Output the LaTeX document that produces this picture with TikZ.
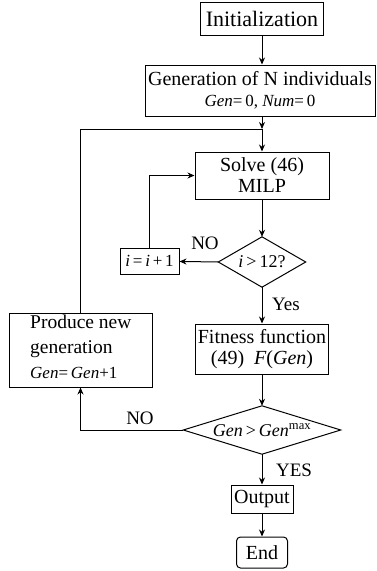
\documentclass[tikz,border=0pt]{standalone}
\usepackage{fontspec}
\setmainfont{Liberation Serif}
\usetikzlibrary{arrows.meta}
\begin{document}
\begin{tikzpicture}[x=1pt,y=-1pt,
  box/.style={draw,line width=1pt,inner sep=0pt,align=center,font=\fontsize{20}{21}\selectfont},
  dia/.style={inner sep=0pt,align=center},
  lbl/.style={font=\fontsize{19}{21}\selectfont,inner sep=0pt},
  arr/.style={line width=1pt,-{Stealth[length=7pt,width=6pt]}},
  ln/.style={line width=1pt}]
\useasboundingbox (0,0) rectangle (376,571);
\node[box,minimum width=123,minimum height=33,font=\fontsize{22}{24}\selectfont] (init) at (262,18.5) {Initialization};
\node[box,minimum width=230,minimum height=51,align=center] (gen) at (260,90.5)
  {Generation of N individuals\\[0pt]{\fontsize{17}{19}\selectfont\itshape Gen\upshape=\,0, \itshape Num\upshape=\,0}};
\coordinate (j) at (262,129);
\node[box,minimum width=134,minimum height=47] (solve) at (262,175.5) {Solve (46)\\MILP};
\node[dia,minimum width=87,minimum height=50,font=\fontsize{18}{20}\selectfont] (d1) at (262,262) {\itshape i\upshape\,>\,12?};
\draw[ln] (d1.north) -- (d1.east) -- (d1.south) -- (d1.west) -- cycle;
\node[box,minimum width=59,minimum height=26,font=\fontsize{17}{19}\selectfont] (inc) at (149.5,261) {\itshape i\upshape\,=\,\itshape i\upshape\,+\,1};
\node[box,minimum width=133,minimum height=50] (fit) at (262,349) {Fitness function\\(49)\ \ \itshape F\upshape(\itshape Gen\upshape)};
\node[dia,minimum width=157,minimum height=48,font=\fontsize{18}{20}\selectfont] (d2) at (262,430) {\itshape Gen\upshape\,>\,\itshape Gen\upshape$^{\mathrm{max}}$};
\draw[ln] (d2.north) -- (d2.east) -- (d2.south) -- (d2.west) -- cycle;
\node[box,minimum width=62,minimum height=28] (out) at (262,499) {Output};
\node[box,rounded corners=4pt,minimum width=51,minimum height=31] (end) at (262,552.5) {End};
\node[box,minimum width=143,minimum height=74] (prod) at (80.5,350) {};
\node[anchor=west,inner sep=0pt,align=left,font=\fontsize{19.5}{25}\selectfont] (prodtxt) at (30,347)
  {Produce new\\generation\\{\fontsize{17}{19}\selectfont\itshape Gen\upshape=\,\itshape Gen\upshape+1}};
\draw[arr] (init.south) -- (init.south |- gen.north);
\draw[arr] (gen.south -| j) -- (j);
\draw[arr] (j) -- (solve);
\draw[arr] (solve) -- (d1.north);
\draw[arr] (d1.west) -- (inc);
\draw[arr] (inc.north) |- (solve.west);
\draw[arr] (d1.south) -- (fit);
\draw[arr] (fit) -- (d2.north);
\draw[arr] (d2.south) -- (out);
\draw[arr] (out) -- (end);
\draw[arr] (d2.west) -| (prod.south);
\draw[ln] (prod.north) |- (j);
\node[lbl] (no1) at (205,243) {NO};
\node[lbl] (yes1) at (286,304) {Yes};
\node[lbl] (no2) at (140,418) {NO};
\node[lbl] (yes2) at (294,470) {YES};
\end{tikzpicture}
\end{document}
